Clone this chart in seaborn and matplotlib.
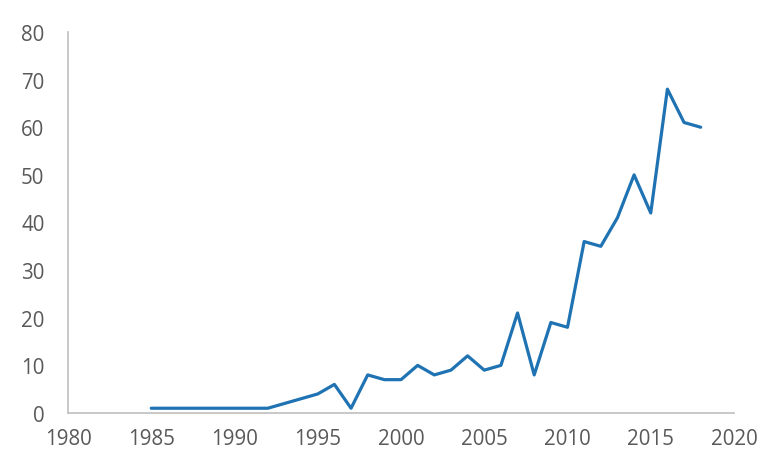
import matplotlib
matplotlib.use("Agg")
import matplotlib.pyplot as plt
import seaborn as sns
import pandas as pd

years = list(range(1985, 2019))
values = [1, 1, 1, 1, 1, 1, 1, 1, 2, 3, 4, 6, 1, 8, 7, 7, 10, 8, 9, 12,
          9, 10, 21, 8, 19, 18, 36, 35, 41, 50, 42, 68, 61, 60]
x_ticks = [1980, 1985, 1990, 1995, 2000, 2005, 2010, 2015, 2020]
y_ticks = [0, 10, 20, 30, 40, 50, 60, 70, 80]

df = pd.DataFrame({"year": years, "value": values})

sns.set_style("white")
plt.rcParams['font.family'] = ['Open Sans', 'DejaVu Sans']

fig = plt.figure(figsize=(7.8, 4.77), dpi=100)
ax = fig.add_axes([68/780, (477-414)/477, (734-68)/780, (414-33)/477])
sns.lineplot(data=df, x="year", y="value", ax=ax, color="#1f73b3", linewidth=2.3)

ax.set_xlim(1980, 2020)
ax.set_ylim(0, 80)
ax.set_xticks(x_ticks)
ax.set_yticks(y_ticks)
ax.set_xlabel("")
ax.set_ylabel("")
for s in ["top", "right"]:
    ax.spines[s].set_visible(False)
for s in ["left", "bottom"]:
    ax.spines[s].set_color("#bfbfbf")
    ax.spines[s].set_linewidth(1.2)
ax.tick_params(axis="both", length=0, labelsize=14.8, colors="#595959")
ax.tick_params(axis="y", pad=17)
ax.tick_params(axis="x", pad=11)

fig.savefig("out.png", dpi=100)
